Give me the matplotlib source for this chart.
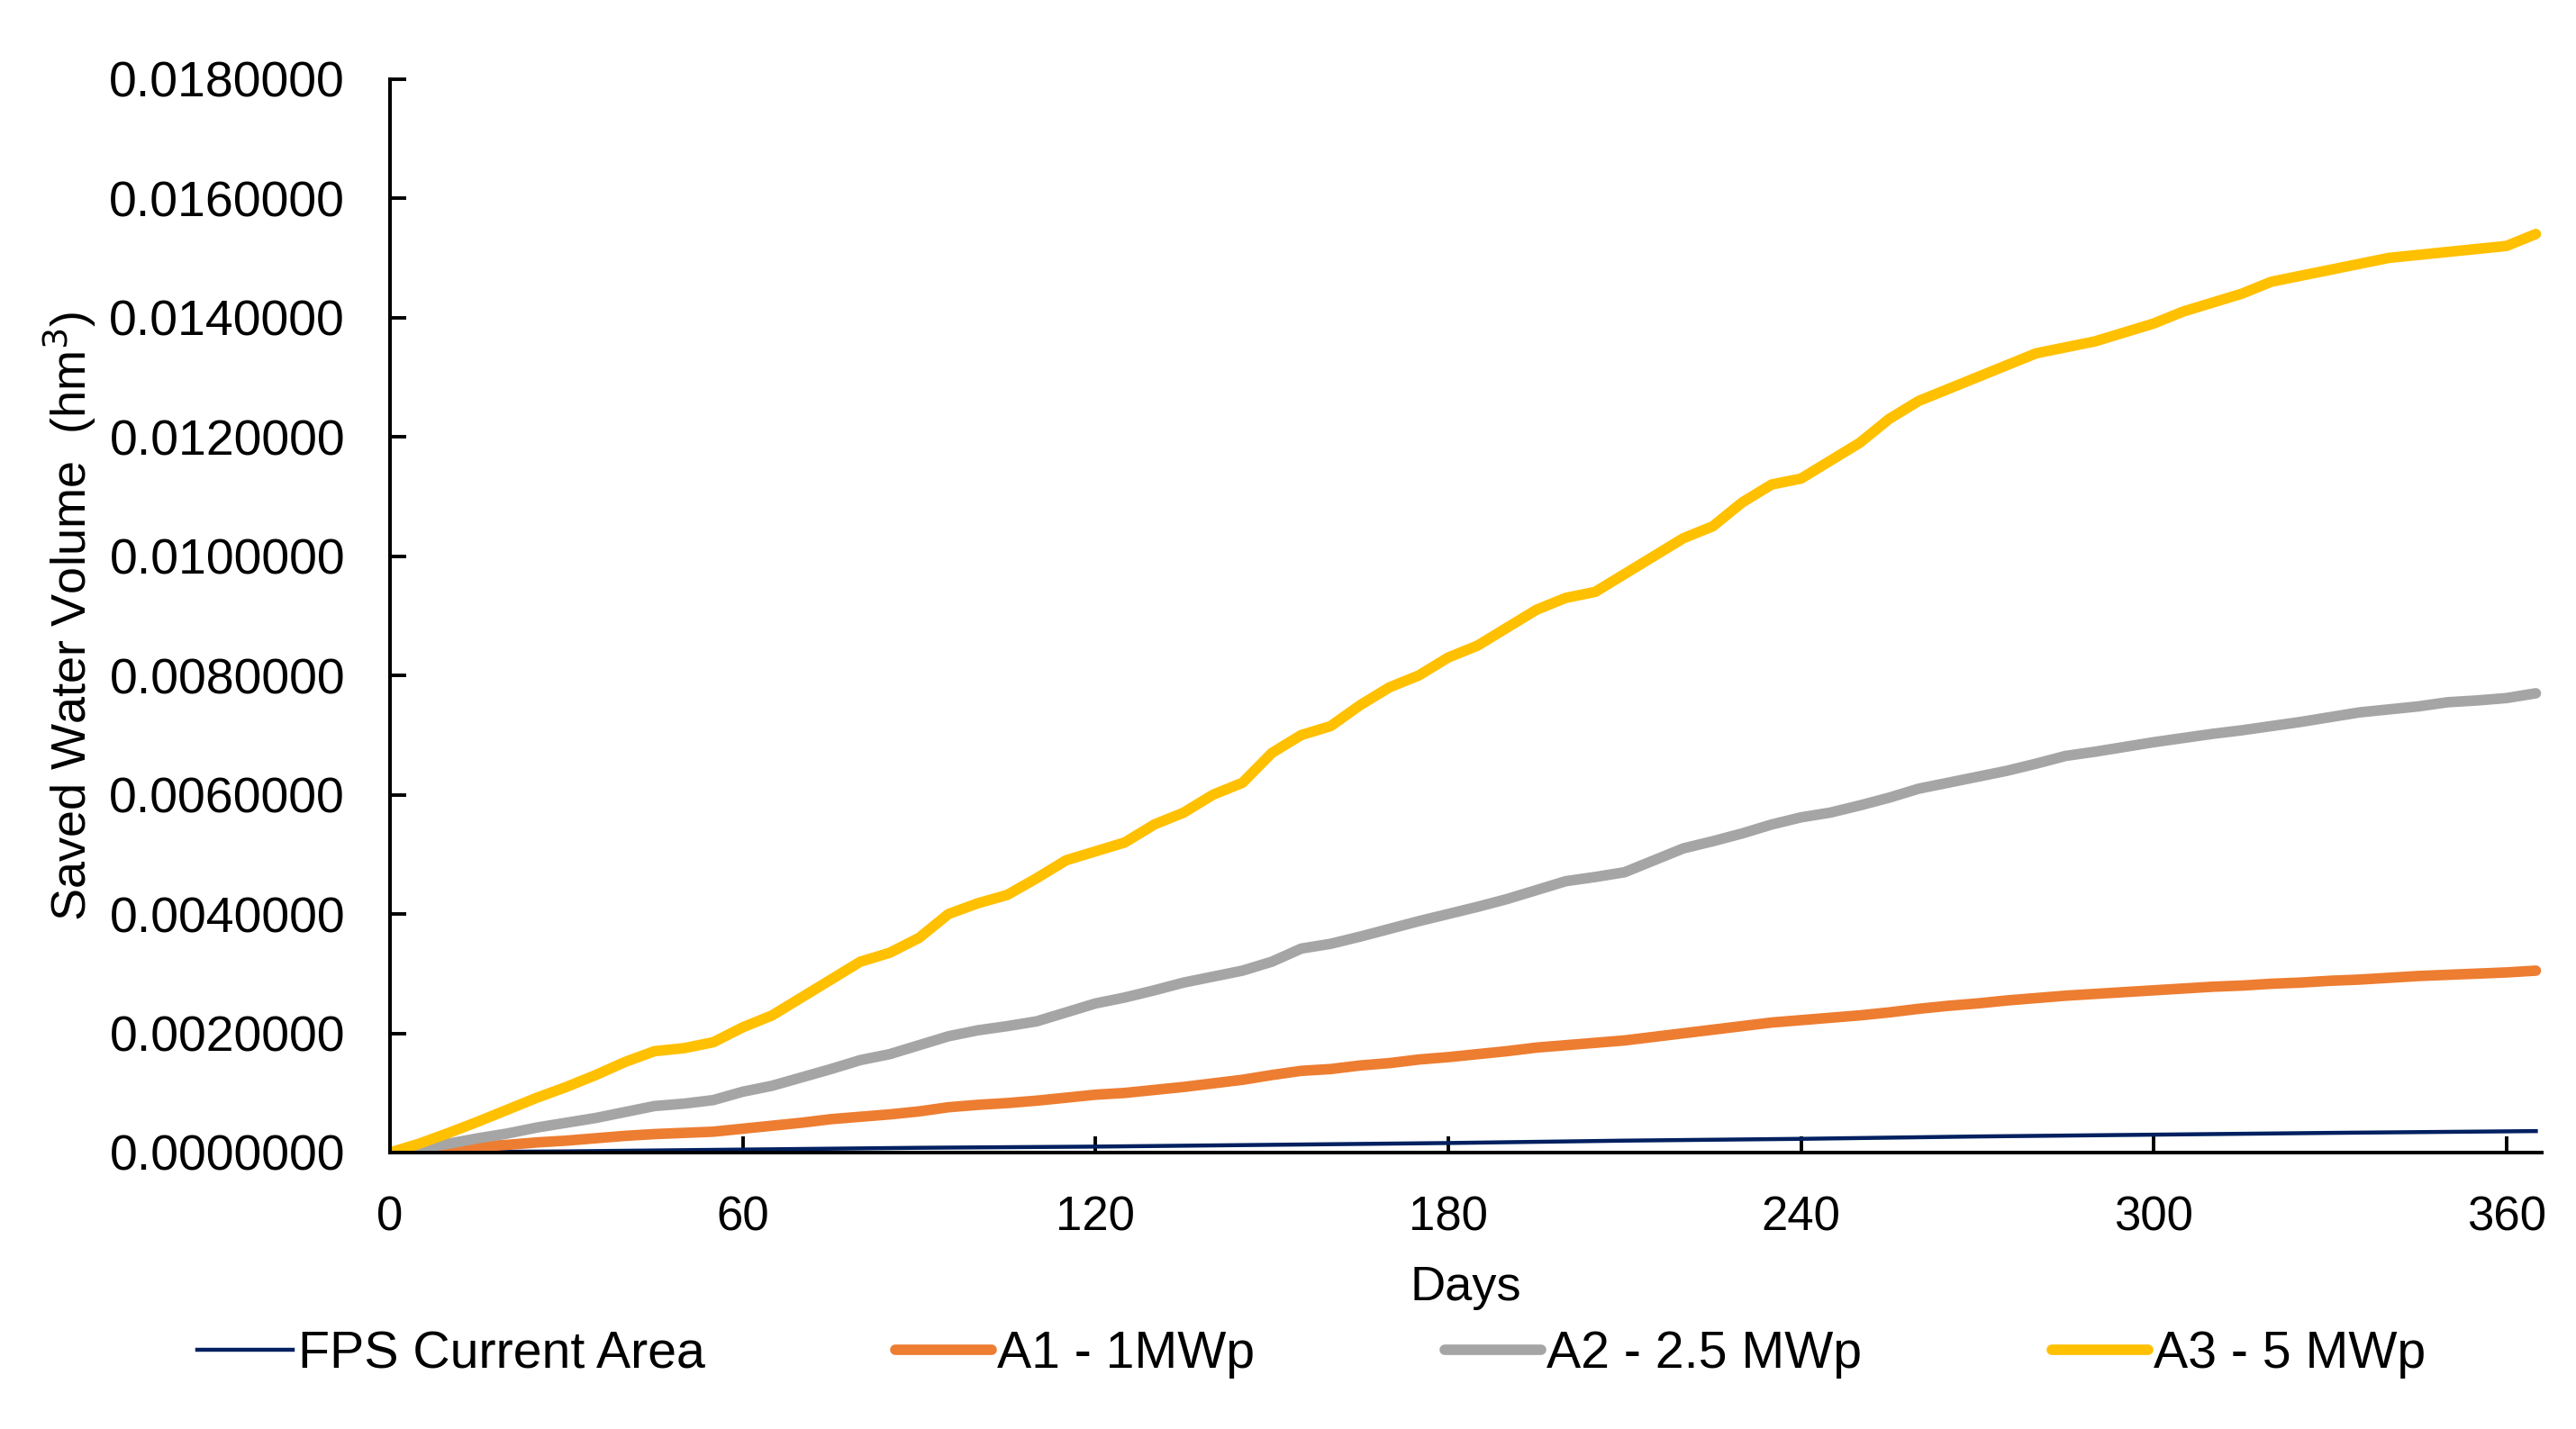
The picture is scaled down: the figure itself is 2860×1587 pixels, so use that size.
import numpy as np
import matplotlib
matplotlib.use("Agg")
import matplotlib.pyplot as plt
from matplotlib.ticker import FormatStrFormatter, MultipleLocator

plt.rcParams['font.family'] = ['Liberation Sans', 'DejaVu Sans']

# days sampled every 5 days (0 .. 365)
DAYS = list(range(0, 370, 5))

# saved water volume (hm3)
A3_5MWP = [0, 0.00015, 0.00033, 0.00052, 0.00072, 0.00092, 0.0011, 0.0013, 0.00152, 0.0017,
           0.00175, 0.00185, 0.0021, 0.0023, 0.0026, 0.0029, 0.0032, 0.00335, 0.0036, 0.0040,
           0.00418, 0.00432, 0.0046, 0.0049, 0.00505, 0.0052, 0.0055, 0.0057, 0.0060, 0.0062,
           0.0067, 0.0070, 0.00715, 0.0075, 0.0078, 0.0080, 0.0083, 0.0085, 0.0088, 0.0091,
           0.0093, 0.0094, 0.0097, 0.0100, 0.0103, 0.0105, 0.0109, 0.0112, 0.0113, 0.0116,
           0.0119, 0.0123, 0.0126, 0.0128, 0.0130, 0.0132, 0.0134, 0.0135, 0.0136, 0.01375,
           0.0139, 0.0141, 0.01425, 0.0144, 0.0146, 0.0147, 0.0148, 0.0149, 0.0150, 0.01505,
           0.0151, 0.01515, 0.0152, 0.0154]

A2_25MWP = [0, 0.00007, 0.00015, 0.00024, 0.00032, 0.00042, 0.0005, 0.00058, 0.00068, 0.00078,
            0.00082, 0.00088, 0.00102, 0.00112, 0.00126, 0.0014, 0.00155, 0.00165, 0.0018, 0.00195,
            0.00205, 0.00212, 0.0022, 0.00235, 0.0025, 0.0026, 0.00272, 0.00285, 0.00295, 0.00305,
            0.0032, 0.00342, 0.0035, 0.00362, 0.00375, 0.00388, 0.0040, 0.00412, 0.00425, 0.0044,
            0.00455, 0.00462, 0.0047, 0.0049, 0.0051, 0.00522, 0.00535, 0.0055, 0.00562, 0.0057,
            0.00582, 0.00595, 0.0061, 0.0062, 0.0063, 0.0064, 0.00652, 0.00665, 0.00672, 0.0068,
            0.00688, 0.00695, 0.00702, 0.00708, 0.00715, 0.00722, 0.0073, 0.00738, 0.00743, 0.00748,
            0.00755, 0.00758, 0.00762, 0.0077]

A1_1MWP = [0, 0.00003, 0.00007, 0.0001, 0.00013, 0.00017, 0.0002, 0.00024, 0.00028, 0.00031,
           0.00033, 0.00035, 0.0004, 0.00045, 0.0005, 0.00056, 0.0006, 0.00064, 0.00069, 0.00076,
           0.0008, 0.00083, 0.00087, 0.00092, 0.00097, 0.001, 0.00105, 0.0011, 0.00116, 0.00122,
           0.0013, 0.00137, 0.0014, 0.00146, 0.0015, 0.00156, 0.0016, 0.00165, 0.0017, 0.00176,
           0.0018, 0.00184, 0.00188, 0.00194, 0.002, 0.00206, 0.00212, 0.00218, 0.00222, 0.00226,
           0.0023, 0.00235, 0.00241, 0.00246, 0.0025, 0.00255, 0.00259, 0.00263, 0.00266, 0.00269,
           0.00272, 0.00275, 0.00278, 0.0028, 0.00283, 0.00285, 0.00288, 0.0029, 0.00293, 0.00296,
           0.00298, 0.003, 0.00302, 0.00305]

# current FPS area is almost linear, fewer points are enough
FPS_DAYS = [0, 30, 60, 90, 120, 150, 180, 210, 240, 270, 300, 330, 365]
FPS_CURRENT = [0, 0.00002, 0.00005, 0.00008, 0.0001, 0.00013, 0.00016, 0.0002, 0.00023,
               0.00027, 0.0003, 0.00033, 0.00036]

fig = plt.figure(figsize=(14.3, 7.935), dpi=200)
ax = fig.add_axes([0.1514, 0.19345, 0.8353, 0.7513])

ax.plot(FPS_DAYS, FPS_CURRENT, color='#002060', linewidth=1.6, label='FPS Current Area')
ax.plot(DAYS, A1_1MWP, color='#ED7D31', linewidth=4.2, label='A1 - 1MWp', solid_capstyle='round')
ax.plot(DAYS, A2_25MWP, color='#A5A5A5', linewidth=4.2, label='A2 - 2.5 MWp', solid_capstyle='round')
ax.plot(DAYS, A3_5MWP, color='#FFC000', linewidth=4.2, label='A3 - 5 MWp', solid_capstyle='round')

ax.set_xlim(0, 366)
ax.set_ylim(0, 0.018)
ax.xaxis.set_major_locator(MultipleLocator(60))
ax.yaxis.set_major_locator(MultipleLocator(0.002))
ax.yaxis.set_major_formatter(FormatStrFormatter('%.7f'))

for side in ['top', 'right']:
    ax.spines[side].set_visible(False)
for side in ['left', 'bottom']:
    ax.spines[side].set_linewidth(1.45)
    ax.spines[side].set_color('black')

ax.tick_params(axis='both', direction='in', length=6.5, width=1.4, pad=18)
ax.tick_params(axis='y', labelsize=20)
ax.tick_params(axis='x', labelsize=19, pad=17)

ax.set_ylabel('Saved Water Volume  (hm$^3$)', fontsize=19.5, va='center')
ax.yaxis.set_label_coords(-0.149, 0.5)
ax.set_xlabel('Days', fontsize=19.5, va='center')
ax.xaxis.set_label_coords(0.5, -0.126)

fig.legend(loc='center', bbox_to_anchor=(0.509, 0.052), ncol=4, frameon=False,
           fontsize=20.6, handlelength=1.86, handletextpad=0.1, columnspacing=3.7)

fig.savefig('out.png', dpi=200, facecolor='white')
